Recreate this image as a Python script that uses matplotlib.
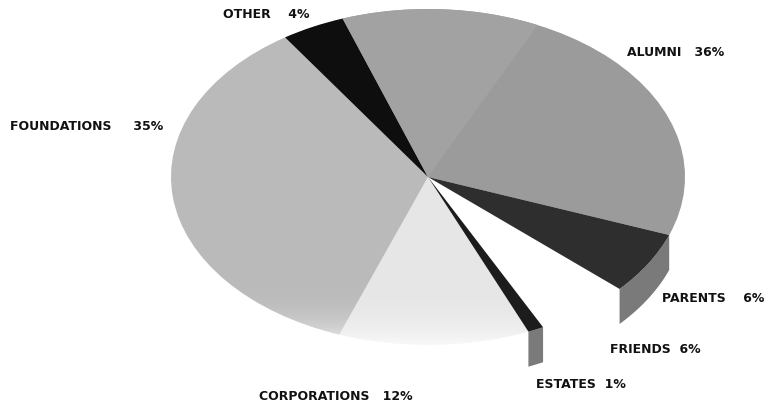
import numpy as np
import matplotlib
matplotlib.use("Agg")
import matplotlib.pyplot as plt
from matplotlib.patches import Wedge

categories = ["ALUMNI", "PARENTS", "FRIENDS", "ESTATES", "CORPORATIONS", "FOUNDATIONS", "OTHER"]
shares = [36, 6, 6, 1, 12, 35, 4]
# the alumni slice is printed in two tones, this part of it is the lighter one
alumni_light_share = 12.4

W, H = 772, 402
colors = ["#9b9b9b", "#2e2e2e", "#ffffff", "#1c1c1c", "#e6e6e6", "#bababa", "#0e0e0e"]

# label anchors in pixels (left edge, vertical centre)
label_pos = {
    "ALUMNI": (627, 52), "PARENTS": (662, 299), "FRIENDS": (610, 350), "ESTATES": (536, 385),
    "CORPORATIONS": (259, 397), "FOUNDATIONS": (10, 126), "OTHER": (223, 15),
}
label_gap = {"ALUMNI": "   ", "PARENTS": "    ", "FOUNDATIONS": "     ", "OTHER": "    ",
             "FRIENDS": "  ", "ESTATES": "  ", "CORPORATIONS": "   "}

fig = plt.figure(figsize=(W / 100, H / 100), dpi=100)
fig.patch.set_facecolor("white")

# the tilted pie is a unit circle squashed by the axes box
cx, cy, rx, ry = 428, 178, 257, 168
start = 109.4
ax = fig.add_axes([(cx - rx) / W, 1 - (cy + ry) / H, 2 * rx / W, 2 * ry / H])
wedges, _ = ax.pie(shares, startangle=start, counterclock=False, colors=colors)
for w in wedges:
    w.set_clip_on(False)
    w.set_linewidth(0)

ax.add_patch(Wedge((0, 0), 1, start - alumni_light_share * 3.6, start, color="#a2a2a2", lw=0, clip_on=False))

# side wall under the two lifted slices
depth = 35 / ry
for name in ["PARENTS", "ESTATES"]:
    w = wedges[categories.index(name)]
    t = np.radians(np.linspace(w.theta1, w.theta2, 30))
    x, y = np.cos(t), np.sin(t)
    ax.fill(np.r_[x, x[::-1]], np.r_[y, y[::-1] - depth], color="#7a7a7a", lw=0, zorder=3, clip_on=False)
    w.set_zorder(4)

# the bottom of the pie fades out into the paper
fade = np.ones((64, 2, 4))
fade[:, :, 3] = np.linspace(0, 1, 64)[:, None] ** 3
ax.imshow(fade, extent=(-1.05, 1.05, -1.05, -0.55), origin="upper", aspect="auto", zorder=2, interpolation="bilinear")

ax.set_aspect("auto")
ax.set_xlim(-1, 1)
ax.set_ylim(-1, 1)
ax.axis("off")

for name, val in zip(categories, shares):
    px, py = label_pos[name]
    fig.text(px / W, 1 - py / H, f"{name}{label_gap[name]}{val}%", fontsize=9, fontweight="bold",
             family="DejaVu Sans", color="#111111", va="center", ha="left")

fig.savefig("out.png", dpi=100)
